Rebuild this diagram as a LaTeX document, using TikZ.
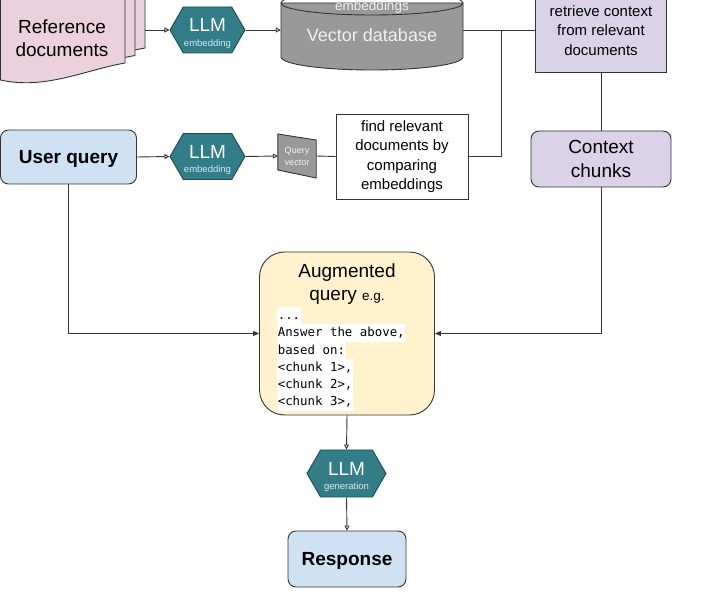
\documentclass[tikz,border=0pt]{standalone}
\usepackage{fontspec}
\setmainfont{Liberation Sans}
\newfontfamily\codefont{DejaVu Sans Mono}
\usetikzlibrary{arrows.meta,shapes.symbols,calc}
\definecolor{docpink}{HTML}{EAD1DC}
\definecolor{lav}{HTML}{D9D2E9}
\definecolor{lblue}{HTML}{CFE2F3}
\definecolor{lyel}{HTML}{FFF2CC}
\definecolor{llmteal}{HTML}{327D87}
\definecolor{llmdark}{HTML}{1E4A50}
\definecolor{llmsub}{HTML}{D8E8EA}
\definecolor{dbgray}{HTML}{999999}
\definecolor{edge}{HTML}{333333}
\newcommand\hexlabel[2]{\smash{\makebox[0pt]{\raisebox{-1.8pt}{\fontsize{19}{19}\selectfont #1}}\makebox[0pt]{\raisebox{-16.4pt}{\fontsize{9.5}{10}\selectfont\color{llmsub}#2}}}}
\begin{document}
\begin{tikzpicture}[x=1pt,y=-1pt,
  conn/.style={draw=edge, line width=0.9pt},
  oarr/.style={conn, -{Triangle[open,length=5pt,width=5pt]}},
  farr/.style={conn, -{Triangle[length=6pt,width=5pt]}},
  llm/.style={signal, signal to=west and east, signal pointer angle=120,
    fill=llmteal, draw=llmdark, line width=0.9pt, minimum width=75pt,
    minimum height=46pt, inner sep=0pt, text=white},
  rbox/.style={rectangle, rounded corners=8pt, draw=edge, line width=0.9pt,
    align=center, inner sep=0pt},
  sbox/.style={rectangle, draw=edge, line width=0.9pt, align=center, inner sep=0pt},
  bigtxt/.style={font=\fontsize{19}{24}\selectfont},
  midtxt/.style={font=\fontsize{15}{19.5}\selectfont},
  codeline/.style={anchor=west, fill=white, inner xsep=0.6pt, inner ysep=0pt,
    text height=12.4pt, text depth=4.9pt, font=\codefont\fontsize{12.4}{14}\selectfont}
]
\clip (0,0) rectangle (702,593);
% reference documents (stacked sheets)
\foreach \dx/\dy in {20/-15,10/-7.5,0/0}{
  \filldraw[fill=docpink, draw=edge, line width=0.9pt, shift={(\dx,\dy)}]
    (0.5,-30) -- (125,-30) -- (125,63) .. controls (85,70) and (45,90) .. (0.5,80) -- cycle;
}
\node[font=\fontsize{19}{23}\selectfont, align=center] (doc) at (62,38.5) {Reference\\documents};
\coordinate (docR) at (145,30);
% vector database cylinder
\filldraw[fill=dbgray, draw=edge, line width=0.9pt]
  (281,3) -- (281,57) arc[start angle=180, end angle=360, x radius=91pt, y radius=13pt]
  -- (463,3) -- cycle;
\draw[edge, line width=0.9pt] (372,3) ellipse [x radius=91pt, y radius=12pt];
\node[font=\fontsize{18}{20}\selectfont, text=gray!12, minimum width=182pt, inner sep=0pt] (vdb) at (372,35) {Vector database};
\node[font=\fontsize{13.5}{15}\selectfont, text=gray!12] (emb) at (372,7.5) {embeddings};
% LLM embedding 1
\node[llm] (llm1) at (207.5,30) {\hexlabel{LLM}{embedding}};
% retrieve box
\node[sbox, fill=lav, midtxt, minimum width=131pt, minimum height=83pt] (ret) at (601,30.5)
  {retrieve context\\from relevant\\documents};
% user query
\node[rbox, fill=lblue, font=\bfseries\fontsize{19}{24}\selectfont, text depth=0pt, minimum width=136pt, minimum height=54pt] (uq) at (68.5,157) {User query};
\node[llm] (llm2) at (207.5,156.5) {\hexlabel{LLM}{embedding}};
\node[minimum width=38pt, minimum height=38pt, inner sep=0pt] (qv) at (297,156) {};
\filldraw[fill=dbgray, draw=edge, line width=0.9pt]
  (qv.west |- 0,134) -- (qv.east |- 0,140) -- (qv.east |- 0,178) -- (qv.west |- 0,170) -- cycle;
\node[font=\fontsize{9}{12}\selectfont, text=gray!10, align=center] (qvt) at (qv) {Query\\vector};
\node[sbox, fill=white, midtxt, minimum width=132pt, minimum height=85pt] (find) at (402,156.5)
  {find relevant\\documents by\\comparing\\embeddings};
\node[rbox, fill=lav, bigtxt, minimum width=140pt, minimum height=56pt] (ctx) at (601,159) {Context\\chunks};
% augmented query
\node[rbox, rounded corners=25pt, fill=lyel, minimum width=175pt, minimum height=163pt] (aug) at (347,333.5) {};
\node[font=\fontsize{19}{23}\selectfont, align=center] (augt) at (347,284.5)
  {Augmented\\query {\fontsize{13.5}{15}\selectfont e.g.}};
\node[codeline] (c1) at (277,315.7) {...};
\node[codeline] (c2) at (277,333) {Answer the above,};
\node[codeline] (c3) at (277,350.3) {based on:};
\node[codeline] (c4) at (277,367.6) {<chunk 1>,};
\node[codeline] (c5) at (277,384.9) {<chunk 2>,};
\node[codeline] (c6) at (277,402.2) {<chunk 3>,};
% LLM generation
\node[llm, minimum width=79pt, minimum height=47pt] (llm3) at (346.5,473.5) {\hexlabel{LLM}{generation}};
\node[rbox, fill=lblue, font=\bfseries\fontsize{19}{24}\selectfont, text depth=0pt, minimum width=118pt, minimum height=56pt] (resp) at (347,559) {Response};
% connectors
\draw[oarr] (docR) -- (llm1);
\draw[oarr] (llm1.east) -- (llm1.east -| vdb.west);
\draw[conn] (vdb.east |- ret.west) -- (ret.west);
\coordinate (j) at (501,30.5);
\draw[conn] (find.east) -| (j);
\draw[conn] (ret.south) -- (ctx.north);
\draw[oarr] (uq.east) -- (llm2.west);
\draw[oarr] (llm2.east) -- (qv.west);
\draw[conn] (qv.east) -- (find.west);
\draw[farr] (uq.south) |- (aug.west);
\draw[farr] (ctx.south) |- (aug.east);
\draw[oarr] (aug.south) -- (llm3.north);
\draw[oarr] (llm3.south) -- (resp.north);
\end{tikzpicture}
\end{document}
